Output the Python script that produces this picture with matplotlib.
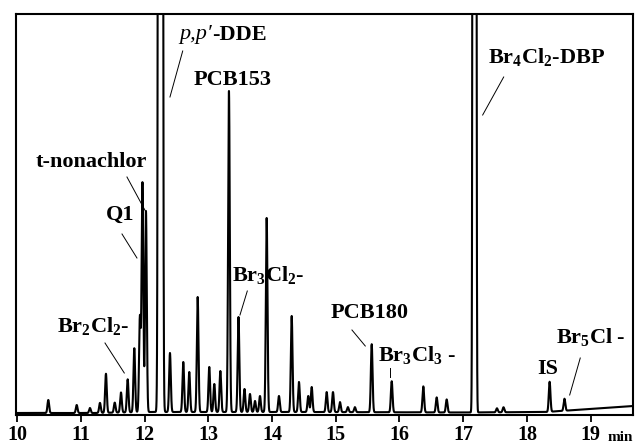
import numpy as np
import matplotlib
matplotlib.use("Agg")
import matplotlib.pyplot as plt

plt.rcParams['font.family'] = ['Liberation Serif', 'DejaVu Serif']
plt.rcParams['mathtext.fontset'] = 'custom'
plt.rcParams['mathtext.rm'] = 'Liberation Serif:bold'
plt.rcParams['mathtext.bf'] = 'Liberation Serif:bold'
plt.rcParams['mathtext.it'] = 'Liberation Serif:bold'

# peak list: retention time (min), height, width (sigma, min)
peak_rt = [10.487, 10.933, 11.141, 11.298, 11.392, 11.53, 11.628, 11.733, 11.837,
           11.925, 11.965, 12.020, 12.248, 12.397, 12.606, 12.700, 12.832, 13.014,
           13.093, 13.188, 13.323, 13.473, 13.567, 13.653, 13.732, 13.810, 13.915,
           14.108, 14.308, 14.422, 14.568, 14.622, 14.857, 14.956, 15.066, 15.19,
           15.30, 15.564, 15.878, 16.374, 16.584, 16.741, 17.177, 17.53, 17.633,
           18.357, 18.59]
peak_h = [13, 8, 5, 10, 39, 10, 20, 33, 64,
          95, 229, 201, 20000, 59, 50, 40, 115, 45,
          28, 41, 321, 95, 23, 18, 11, 16, 194,
          16, 96, 30, 16, 25, 20, 20, 10, 5,
          5, 68, 31, 26, 15, 13, 20000, 4, 5,
          30, 12]
peak_w = [0.013] * len(peak_rt)
peak_w[12] = 0.016   # p,p'-DDE (overloaded)
peak_w[42] = 0.0125  # Br4Cl2-DBP (overloaded)

# baseline drift
base_t = [9.98, 11.2, 12.0, 14.5, 17.0, 18.3, 19.67]
base_v = [2, 2, 3, 3, 2.5, 3, 9]

t = np.linspace(9.98, 19.67, 30000)
sig = np.interp(t, base_t, base_v)
for rt, h, w in zip(peak_rt, peak_h, peak_w):
    sig = sig + h * np.exp(-0.5 * ((t - rt) / w) ** 2)

fig = plt.figure(figsize=(6.37, 4.48), dpi=100)
ax = fig.add_axes([16 / 637, 1 - 415 / 448, (633 - 16) / 637, (415 - 14) / 448])
ax.plot(t, sig, color='black', lw=1.5)
ax.set_xlim(9.980, 19.666)
ax.set_ylim(0, 401)
ax.set_yticks([])
ax.set_xticks(range(10, 20))
ax.tick_params(axis='x', direction='out', length=5, width=1.3, pad=2, labelsize=14.5)
for lab in ax.get_xticklabels():
    lab.set_fontweight('bold')
for s in ax.spines.values():
    s.set_linewidth(1.5)

ax.text(19.27, -26, 'min', fontsize=11, fontweight='bold', ha='left', va='baseline',
        clip_on=False)

# labels: text, position, pointer (start, end) or None
labels = [
    ('PCB153', 13.386, 335, None),
    ('t-nonachlor', 11.157, 253, ((11.722, 238), (12.028, 202))),
    ('Q1', 11.612, 200, ((11.644, 181), (11.879, 157))),
    ('Br$_2$Cl$_2$-', 11.188, 89, ((11.377, 72), (11.680, 42))),
    ('Br$_3$Cl$_2$-', 13.936, 140, ((13.611, 124), (13.496, 100))),
    ('PCB180', 15.528, 102, ((15.254, 85), (15.463, 69))),
    ('Br$_3$Cl$_3$ -', 16.275, 60, ((15.856, 47), (15.856, 38))),
    ('IS', 18.328, 46, None),
    ('Br$_5$Cl -', 19.003, 78, ((18.838, 57), (18.672, 20))),
    ('Br$_4$Cl$_2$-DBP', 18.312, 358, ((17.636, 338), (17.306, 300))),
]
for txt, x, y, ptr in labels:
    ax.text(x, y, txt, fontsize=16, fontweight='bold', ha='center', va='center')
    if ptr is not None:
        (x0, y0), (x1, y1) = ptr
        ax.plot([x0, x1], [y0, y1], color='black', lw=0.7)

ax.text(13.057, 380, 'p,p\u2032', fontsize=16, fontstyle='italic', ha='right', va='center')
ax.text(13.057, 380, '-DDE', fontsize=16, fontweight='bold', ha='left', va='center')
ax.plot([12.597, 12.397], [364, 318], color='black', lw=0.7)

fig.savefig('out.png', dpi=100)
